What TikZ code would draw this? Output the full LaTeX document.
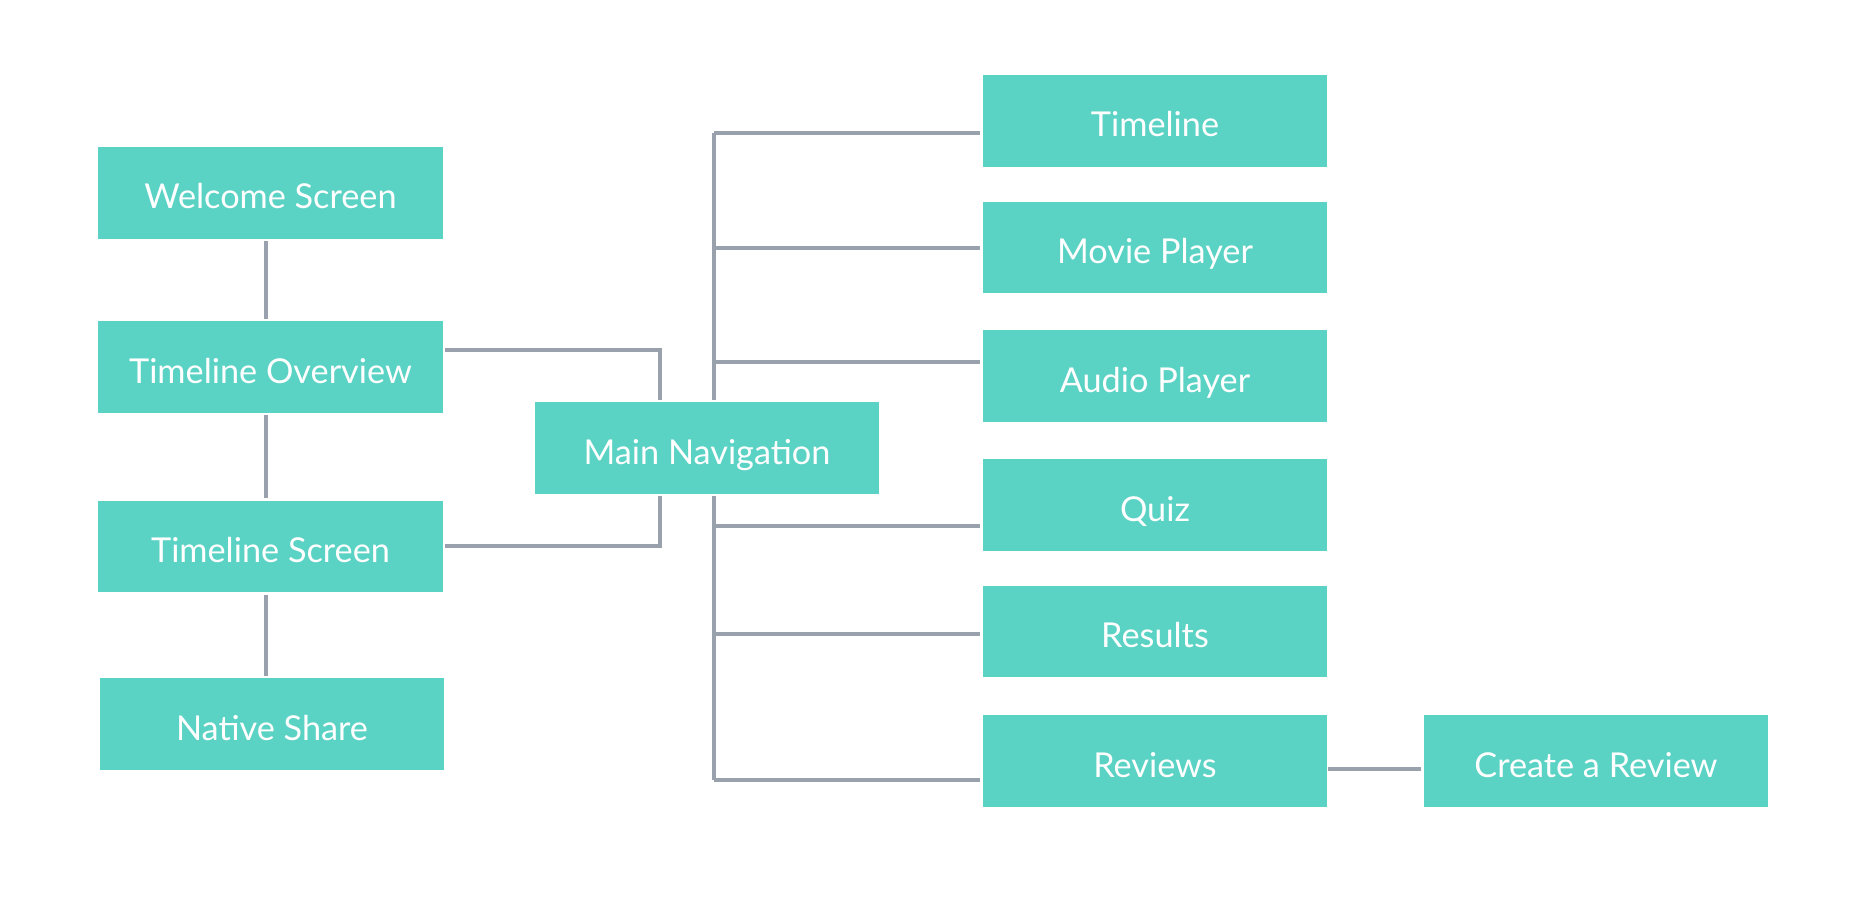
\documentclass[tikz,border=0pt]{standalone}
\usepackage{fontspec}
\setmainfont{Lato}
\usepackage{tikz}
\usetikzlibrary{positioning}
\definecolor{boxteal}{HTML}{5AD2C4}
\definecolor{linegray}{HTML}{99A1AC}
\tikzset{
  screen/.style={
    rectangle,
    minimum width=196pt,
    minimum height=52pt,
    inner sep=0pt,
    text height=20.6pt,
    text depth=2.4pt,
    align=center,
    fill=boxteal,
    text=white,
    font=\fontsize{19.5}{22}\selectfont
    },
  link/.style={draw=linegray, line width=2.8pt},
}

\begin{document}
\begin{tikzpicture}[
            x = 0.02cm, % one reference pixel
            y = -0.02cm, % y grows downwards
            link
        ]
         \useasboundingbox (0,0) rectangle (1849,897);

         % left column
         \node[screen] (welcome) at (270.5,193) {Welcome Screen};
         \node[screen] (overview) at (270.5,367) {Timeline Overview};
         \node[screen] (tscreen) at (270.5,546.5) {Timeline Screen};
         \node[screen] (share) at (272,724) {Native Share};

         % hub
         \node[screen] (mainnav) at (707,448) {Main Navigation};

         % right column
         \node[screen] (timeline) at (1155,121) {Timeline};
         \node[screen] (movie) at (1155,247.5) {Movie Player};
         \node[screen] (audio) at (1155,376) {Audio Player};
         \node[screen] (quiz) at (1155,505) {Quiz};
         \node[screen] (results) at (1155,631.5) {Results};
         \node[screen] (reviews) at (1155,761) {Reviews};
         \node[screen] (create) at (1596,761) {Create a Review};

         \coordinate (lx) at (266,0);
         \draw (welcome.south -| lx) -- (overview.north -| lx);
         \draw (overview.south -| lx) -- (tscreen.north -| lx);
         \draw (tscreen.south -| lx) -- (share.north -| lx);

         % bracket into the hub
         \coordinate (lt) at (660,350);
         \coordinate (lb) at (660,546);
         \draw (overview.east |- lt) -- (lt) -- (lt |- mainnav.north);
         \draw (tscreen.east |- lb) -- (lb) -- (lb |- mainnav.south);

         % trunk out of the hub
         \coordinate (ttop) at (714,133);
         \coordinate (tbot) at (714,780);
         \draw (ttop) -- (ttop |- mainnav.north);
         \draw (tbot) -- (tbot |- mainnav.south);
         \foreach \n/\y in {timeline/133, movie/248, audio/362, quiz/526, results/634, reviews/780}{
           \coordinate (b\n) at (714,\y);
           \draw (b\n) -- (\n.west |- b\n);
         }

         \coordinate (rc) at (1328,769);
         \draw (rc) -- (create.west |- rc);
\end{tikzpicture}
\end{document}
